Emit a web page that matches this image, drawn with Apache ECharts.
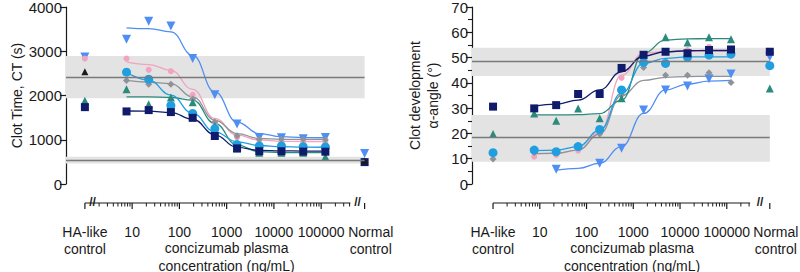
<!DOCTYPE html>
<html>
<head>
<meta charset="utf-8">
<script src="https://cdn.jsdelivr.net/npm/echarts@6/dist/echarts.min.js"></script>
<style>
	html, body { margin: 0; background: #fff; }
	#chart { width: 800px; height: 272px; }
</style>
</head>
<body>
<div id="chart"></div>
<script>
	// concizumab plasma concentrations (ng/mL)
	const conc = [7.6, 22.4, 66, 191, 562, 1660, 4900, 14450, 41700, 123000]
	const xTickLabels = ['HA-like\ncontrol', '10', '100', '1000', '10000', '100000', 'Normal\ncontrol']
	const yTicksCT = [0, 1000, 2000, 3000, 4000]
	const yTicksAngle = [0, 10, 20, 30, 40, 50, 60, 70]

	/* Clot time, CT (s) : points and fitted curves */
	const ctBlue = [3270, 3680, 3570, 2835, 2015, 1354, 1053, 1045, 1022, 1053]
	const ctBlueFit = [3530, 3510, 3440, 2910, 2080, 1400, 1140, 1070, 1050, 1045]
	const ctPink = [2835, 2580, 2550, 2015, 1385, 1055, 995, 955, 955, 955]
	const ctPinkFit = [2760, 2700, 2570, 2140, 1480, 1105, 995, 965, 960, 960]
	const ctGrey = [2340, 2255, 2255, 1920, 1400, 1090, 1010, 1010, 1010, 1000]
	const ctGreyFit = [2340, 2300, 2270, 1970, 1445, 1140, 1030, 1010, 1008, 1008]
	const ctTeal = [2140, 1800, 1955, 1845, 1310, 805, 707, 707, 708, 617]
	const ctTealFit = [1970, 1970, 1955, 1895, 1370, 880, 730, 712, 710, 710]
	const ctSky = [2527, 2370, 1775, 1595, 1250, 890, 860, 860, 842, 838]
	const ctSkyFit = [2527, 2346, 2008, 1595, 1180, 954, 870, 845, 835, 830]
	const ctNavy = [1640, 1670, 1625, 1495, 1085, 805, 740, 740, 733, 730]
	const ctNavyFit = [1650, 1648, 1615, 1466, 1112, 827, 760, 748, 745, 744]
	// controls, same order: blue, pink, grey, teal, sky, navy, black
	const ctHA = [2870, 2835, null, 1880, null, 1737, 2535]
	const ctNormal = [690, null, null, null, null, 495, 520]
	// reference ranges [low, mid, high]
	const ctRanges = [[1940, 2405, 2890], [465, 545, 615]]

	/* Clot development, alpha-angle (deg) */
	const agBlue = [null, 5.8, null, 8.2, 14.1, 29.3, 37.2, 38.8, 41.6, 43.5]
	const agBlueFit = [null, 5.5, 6.2, 8.2, 14.8, 27.9, 37.2, 39.5, 40.7, 41.0]
	const agPink = [10.8, 11.5, 13.2, 21, 42, 50.5, 52.5, 53, 54.2, 50.8]
	const agPinkFit = [11.9, 12.1, 13.4, 20.5, 43, 51.7, 52.3, 52.6, 52.6, 52.6]
	const agGrey = [12.5, 12.8, 14.5, 19.8, 35.2, 46.1, 43.0, 43.0, 44.0, 40.1]
	const agGreyFit = [12, 12.2, 13.4, 19.8, 35, 41, 42.2, 42.5, 42.6, 42.6]
	const agTeal = [27.9, 25.0, 29.9, 26.0, 33.9, 51, 58.0, 56.0, 58.0, 57.2]
	const agTealFit = [27.3, 27.3, 27.4, 27.8, 33.2, 51.7, 57.0, 57.4, 57.5, 57.5]
	const agSky = [13.4, 12.8, 14.8, 21.6, 37.2, 48.1, 47.7, 50.1, 51.0, 51.4]
	const agSkyFit = [13.2, 13.4, 14.8, 21.3, 35.9, 47.7, 49.7, 50.3, 50.3, 50.3]
	const agNavy = [29.9, 31.2, 35.6, 35.6, 45.9, 51.1, 52.3, 51.7, 53.0, 53.2]
	const agNavyFit = [30.8, 31.6, 33.2, 37.2, 44.4, 50.6, 52.3, 52.7, 52.8, 52.8]
	const agHA = [null, null, 9.9, 19.8, 12.4, 30.6, null]
	const agNormal = [50.3, 52.7, null, 37.8, 46.8, 52.3, null]
	const agRanges = [[8.8, 18.3, 27.3], [42.7, 48.4, 53.9]]

	// positions of the two controls on the log10 concentration axis
	const HA_POS = 0
	const NORMAL_POS = 5.92
	const labelPos = [0, 1, 2, 3, 4, 5, 6.05]
	const majorTicks = [0, 1, 2, 3, 4, 5, NORMAL_POS]

	const markers = [
		{ color: '#4f8ef2', symbol: 'triangle', rotate: 180, size: 9 },
		{ color: '#f2a3bd', symbol: 'circle', size: 6 },
		{ color: '#8e939a', symbol: 'diamond', size: 7 },
		{ color: '#2a8a7c', symbol: 'triangle', size: 8 },
		{ color: '#1f9ee0', symbol: 'circle', size: 9 },
		{ color: '#101c6b', symbol: 'rect', size: 8 },
		{ color: '#1a1a1a', symbol: 'triangle', size: 7 }
	]

	const panels = [
		{ left: 66, pxDec: 47.25, xMin: -0.4, lineEnd: 5.62, leftBreak: true,
			points: [ctBlue, ctPink, ctGrey, ctTeal, ctSky, ctNavy, null],
			fits: [ctBlueFit, ctPinkFit, ctGreyFit, ctTealFit, ctSkyFit, ctNavyFit, null],
			ha: ctHA, normal: ctNormal, ranges: ctRanges, yTicks: yTicksCT,
			name: 'Clot Time, CT (s)', nameGap: 40 },
		{ left: 472, pxDec: 46.75, xMin: -0.45, lineEnd: 5.5, leftBreak: false,
			points: [agBlue, agPink, agGrey, agTeal, agSky, agNavy, null],
			fits: [agBlueFit, agPinkFit, agGreyFit, agTealFit, agSkyFit, agNavyFit, null],
			ha: agHA, normal: agNormal, ranges: agRanges, yTicks: yTicksAngle,
			name: 'Clot development\nα-angle (°)', nameGap: 30 }
	]
	const X_MAX = 6.4
	const AXIS_DROP = 19
	const FONT = 'Liberation Sans'
	const INK = '#1a1a1a'

	const lx = conc.map(c => Math.log10(c))
	const minorTicks = (end) => {
		const out = []
		for (let n = 0; n <= 5; n++) {
			for (let k = 2; k <= 9; k++) {
				const v = n + Math.log10(k)
				if (v <= end) out.push(v)
			}
		}
		return out
	}

	const grid = [], xAxis = [], yAxis = [], series = []
	panels.forEach((p, i) => {
		grid.push({
			left: p.left, top: 7, height: 177, width: (X_MAX - p.xMin) * p.pxDec,
			containLabel: false, outerBoundsMode: 'none'
		})
		// labels and title only; the broken axis line and its ticks are added below
		xAxis.push({
			type: 'value', gridIndex: i, min: p.xMin, max: X_MAX, position: 'bottom',
			offset: AXIS_DROP, splitLine: { show: false },
			axisLine: { show: false, onZero: false },
			axisTick: { show: false },
			axisLabel: {
				customValues: labelPos, margin: 20, color: INK, fontFamily: FONT, fontSize: 14, lineHeight: 17,
				formatter: v => xTickLabels[labelPos.findIndex(q => Math.abs(q - v) < 1e-6)] || ''
			},
			name: 'concizumab plasma\nconcentration (ng/mL)', nameLocation: 'middle', nameGap: 36,
			nameMoveOverlap: false,
			nameTextStyle: { color: INK, fontFamily: FONT, fontSize: 14, lineHeight: 18 }
		})
		const yt = p.yTicks
		yAxis.push({
			type: 'value', gridIndex: i, min: yt[0], max: yt[yt.length - 1], interval: yt[1] - yt[0],
			splitLine: { show: false },
			axisLine: { show: true, onZero: false, lineStyle: { color: INK, width: 1.2 } },
			axisTick: { show: true, length: 6, lineStyle: { color: INK, width: 1.2 } },
			minorTick: { show: i === 1, splitNumber: 2, length: 4, lineStyle: { color: INK, width: 1.1 } },
			axisLabel: { color: INK, fontFamily: FONT, fontSize: 15, margin: 4, formatter: v => String(v) },
			name: p.name, nameLocation: 'middle', nameGap: p.nameGap, nameMoveOverlap: false,
			nameTextStyle: { color: INK, fontFamily: FONT, fontSize: 14, lineHeight: 18 }
		})

		// grey reference ranges, hung on the first fitted curve of the panel
		const bandMarks = {
			markArea: {
				silent: true, itemStyle: { color: '#e3e3e3' },
				data: p.ranges.map(r => [{ coord: [p.xMin, r[0]] }, { coord: [NORMAL_POS, r[2]] }])
			},
			markLine: {
				silent: true, symbol: 'none', label: { show: false },
				lineStyle: { color: '#7a7a7a', width: 1.3, type: 'solid' },
				data: p.ranges.map(r => [{ coord: [p.xMin, r[1]] }, { coord: [NORMAL_POS, r[1]] }])
			}
		}
		// fitted curves
		p.fits.forEach((f, k) => {
			if (!f) return
			series.push(Object.assign({
				type: 'line', xAxisIndex: i, yAxisIndex: i, z: 2, silent: true,
				showSymbol: false, smooth: 0.45, smoothMonotone: 'x',
				lineStyle: { color: markers[k].color, width: 1.3 },
				data: f.map((v, j) => [lx[j], v]).filter(d => d[1] != null)
			}, k === 0 ? bandMarks : {}))
		})
		// measured points incl. controls
		markers.forEach((m, k) => {
			const pts = (p.points[k] || []).map((v, j) => [lx[j], v])
			pts.push([HA_POS, p.ha[k]], [NORMAL_POS, p.normal[k]])
			const data = pts.filter(d => d[1] != null)
			if (!data.length) return
			series.push({
				type: 'scatter', xAxisIndex: i, yAxisIndex: i, z: 3, silent: true,
				symbol: m.symbol, symbolSize: m.size, symbolRotate: m.rotate || 0,
				itemStyle: { color: m.color, opacity: 1 },
				data: data
			})
		})
	})

	const chart = echarts.init(document.getElementById('chart'), null, { renderer: 'svg' })
	chart.setOption({ animation: false, grid, xAxis, yAxis, series })

	// broken x axis: line, ticks and break marks placed through the axis scale
	const graphic = []
	panels.forEach((p, i) => {
		const px = v => chart.convertToPixel({ xAxisIndex: i, yAxisIndex: i }, [v, 0])
		const y = Math.round(px(0)[1] + AXIS_DROP)
		graphic.push({
			type: 'polyline', z: 50,
			shape: { points: [[px(0)[0], y], [px(p.lineEnd)[0], y]] },
			style: { stroke: INK, lineWidth: 1.2, fill: null }
		})
		majorTicks.forEach(v => {
			graphic.push({
				type: 'polyline', z: 50,
				shape: { points: [[px(v)[0], y], [px(v)[0], y + 6]] },
				style: { stroke: INK, lineWidth: 1.2, fill: null }
			})
		})
		minorTicks(p.lineEnd).forEach(v => {
			graphic.push({
				type: 'polyline', z: 50,
				shape: { points: [[px(v)[0], y], [px(v)[0], y + 3.5]] },
				style: { stroke: INK, lineWidth: 1, fill: null }
			})
		})
		const breaks = [(p.lineEnd + NORMAL_POS) / 2]
		if (p.leftBreak) breaks.push(0.16)
		breaks.forEach(b => {
			graphic.push({
				type: 'text', z: 51, x: px(b)[0], y: y - 1,
				style: { text: '//', font: 'bold 12px ' + FONT, fill: INK, align: 'center', verticalAlign: 'middle' }
			})
		})
	})
	chart.setOption({ graphic })
</script>
</body>
</html>
